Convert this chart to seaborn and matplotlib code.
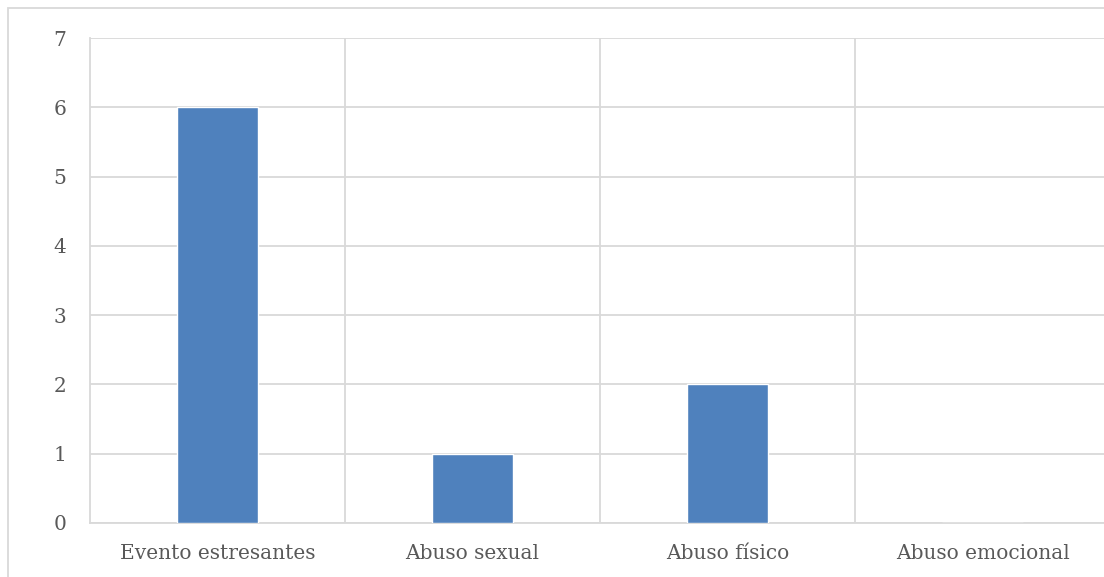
import matplotlib
matplotlib.use("Agg")
import matplotlib.pyplot as plt
import seaborn as sns
import pandas as pd
from matplotlib.patches import Rectangle

# Datos
categorias = ["Evento estresantes", "Abuso sexual", "Abuso físico", "Abuso emocional"]
valores = [6, 1, 2, 0]

df = pd.DataFrame({"categoria": categorias, "valor": valores})

sns.set_style("white")
plt.rcParams["font.family"] = ["DejaVu Serif"]

fig = plt.figure(figsize=(11.04, 5.77), dpi=100)
ax = fig.add_axes([90 / 1104, 54 / 577, 1020 / 1104, 485 / 577])

sns.barplot(data=df, x="categoria", y="valor", color="#4F81BD", width=0.314,
            saturation=1, ax=ax, zorder=3)

gris = "#D9D9D9"
ax.set_xlim(-0.5, 3.5)
ax.set_ylim(0, 7)
ax.set_yticks(range(0, 8))
ax.yaxis.grid(True, color=gris, linewidth=1.3, zorder=0)
for xv in [0.5, 1.5, 2.5]:
    ax.axvline(xv, color=gris, linewidth=1.3, zorder=0)

for s in ["top", "right"]:
    ax.spines[s].set_visible(False)
for s in ["left", "bottom"]:
    ax.spines[s].set_color(gris)
    ax.spines[s].set_linewidth(1.3)

ax.set_xlabel("")
ax.set_ylabel("")
ax.tick_params(axis="y", length=0, pad=17, labelsize=14.5, labelcolor="#595959")
ax.tick_params(axis="x", length=0, pad=15, labelsize=14.5, labelcolor="#595959")

# marco del gráfico
fig.patches.append(Rectangle((8 / 1104, -0.5), 2, (569 / 577) + 0.5,
                             transform=fig.transFigure, fill=False,
                             edgecolor=gris, linewidth=1.3))

fig.savefig("out.png", dpi=100)
